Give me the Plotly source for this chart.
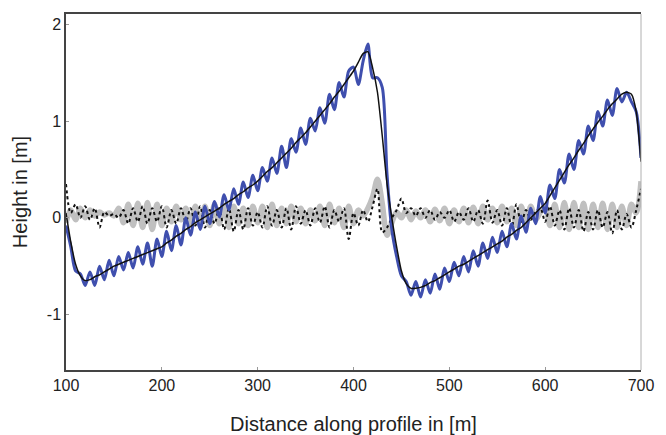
import plotly.graph_objects as go

# distance along profile [m]
distance = list(range(100, 701, 5))

# smooth trend (black solid)
trend = [0.05, -0.25, -0.48, -0.60, -0.65, -0.64, -0.61, -0.59, -0.56, -0.53,
         -0.50, -0.48, -0.46, -0.44, -0.42, -0.40, -0.38, -0.36, -0.34, -0.32,
         -0.30, -0.26, -0.23, -0.19, -0.16, -0.12, -0.09, -0.05, -0.02, 0.01,
         0.04, 0.07, 0.10, 0.14, 0.17, 0.20, 0.24, 0.27, 0.31, 0.34,
         0.38, 0.43, 0.48, 0.52, 0.57, 0.62, 0.67, 0.72, 0.78, 0.83,
         0.88, 0.94, 1.00, 1.06, 1.12, 1.18, 1.25, 1.31, 1.38, 1.45,
         1.52, 1.61, 1.70, 1.72, 1.55, 1.30, 0.85, 0.35, 0.00, -0.30,
         -0.55, -0.68, -0.73, -0.73, -0.72, -0.70, -0.67, -0.65, -0.62, -0.59,
         -0.56, -0.53, -0.50, -0.48, -0.45, -0.42, -0.39, -0.36, -0.33, -0.30,
         -0.27, -0.24, -0.20, -0.17, -0.13, -0.10, -0.05, 0.00, 0.05, 0.10,
         0.15, 0.23, 0.31, 0.39, 0.47, 0.55, 0.62, 0.70, 0.77, 0.85,
         0.92, 0.99, 1.05, 1.12, 1.18, 1.23, 1.28, 1.30, 1.28, 1.10,
         0.58]

# measured profile (blue)
measured = [-0.08, -0.30, -0.55, -0.58, -0.70, -0.56, -0.70, -0.50, -0.64, -0.44,
            -0.60, -0.40, -0.54, -0.36, -0.52, -0.30, -0.48, -0.26, -0.50, -0.22,
            -0.40, -0.14, -0.34, -0.08, -0.28, 0.00, -0.18, 0.06, -0.12, 0.12,
            -0.06, 0.17, 0.01, 0.24, 0.08, 0.30, 0.14, 0.37, 0.21, 0.44,
            0.28, 0.52, 0.38, 0.62, 0.46, 0.74, 0.52, 0.82, 0.68, 0.93,
            0.76, 1.03, 0.90, 1.14, 0.98, 1.28, 1.12, 1.40, 1.25, 1.52,
            1.56, 1.38, 1.62, 1.80, 1.45, 1.45, 1.35, 0.45, -0.12, -0.40,
            -0.60, -0.66, -0.80, -0.66, -0.82, -0.64, -0.78, -0.58, -0.74, -0.52,
            -0.66, -0.46, -0.60, -0.40, -0.56, -0.34, -0.50, -0.26, -0.42, -0.20,
            -0.36, -0.14, -0.30, -0.06, -0.22, 0.02, -0.15, 0.10, -0.06, 0.22,
            0.05, 0.34, 0.20, 0.50, 0.36, 0.66, 0.50, 0.80, 0.66, 0.95,
            0.80, 1.10, 0.95, 1.22, 1.06, 1.34, 1.20, 1.30, 1.20, 1.10,
            0.62]

# residual 1 (grey)
residual_grey = [-0.05, 0.08, -0.02, 0.10, 0.00, 0.08, 0.02, 0.06, 0.03, 0.05,
                 0.02, 0.10, -0.05, 0.14, -0.08, 0.15, -0.10, 0.16, -0.12, 0.14,
                 -0.08, 0.10, -0.04, 0.12, -0.02, 0.10, -0.06, 0.12, -0.08, 0.12,
                 -0.08, 0.14, -0.06, 0.13, -0.10, 0.12, -0.06, 0.10, -0.08, 0.12,
                 -0.05, 0.12, -0.10, 0.14, -0.08, 0.10, -0.06, 0.12, -0.04, 0.10,
                 -0.06, 0.08, -0.03, 0.12, -0.08, 0.14, -0.05, 0.10, -0.10, 0.12,
                 -0.06, 0.08, 0.02, 0.10, 0.22, 0.40, 0.15, -0.18, -0.05, 0.06,
                 0.00, 0.08, -0.02, 0.07, 0.00, 0.08, -0.04, 0.09, -0.03, 0.10,
                 -0.06, 0.08, -0.04, 0.10, -0.05, 0.11, -0.06, 0.12, -0.02, 0.10,
                 -0.05, 0.12, -0.04, 0.10, -0.08, 0.12, -0.06, 0.12, -0.02, 0.06,
                 0.12, -0.08, 0.14, -0.10, 0.16, -0.12, 0.16, -0.10, 0.15, -0.12,
                 0.14, -0.10, 0.15, -0.12, 0.14, -0.10, 0.12, -0.08, 0.14, 0.05,
                 0.38]

# residual 2 (black dotted)
residual_black = [0.35, 0.05, 0.14, 0.00, 0.12, -0.02, 0.10, -0.10, 0.06, 0.02,
                  0.04, 0.00, 0.08, -0.06, 0.10, -0.04, 0.12, -0.06, 0.10, -0.04,
                  0.12, -0.10, 0.08, -0.06, 0.10, -0.04, 0.10, -0.08, 0.12, -0.10,
                  0.08, -0.06, 0.10, -0.12, 0.10, -0.14, 0.08, -0.12, 0.10, -0.08,
                  0.06, -0.10, 0.12, -0.08, 0.08, -0.10, 0.10, -0.12, 0.12, -0.06,
                  0.08, -0.08, 0.10, -0.05, 0.12, -0.10, 0.08, -0.04, 0.10, -0.22,
                  0.05, -0.08, 0.08, -0.04, 0.12, 0.30, -0.15, -0.10, 0.00, 0.08,
                  0.20, 0.05, 0.10, 0.02, 0.10, 0.00, 0.08, -0.02, 0.06, 0.00,
                  0.08, -0.04, 0.06, -0.02, 0.10, -0.04, 0.08, -0.06, 0.18, -0.05,
                  0.08, -0.08, 0.10, -0.10, 0.14, -0.06, 0.08, -0.02, 0.06, 0.10,
                  -0.04, 0.12, -0.08, 0.08, -0.12, 0.10, -0.10, 0.08, -0.14, 0.06,
                  -0.12, 0.08, -0.10, 0.06, -0.16, 0.08, -0.12, 0.04, -0.10, 0.08,
                  0.30]

x_ticks = [100, 200, 300, 400, 500, 600, 700]
y_ticks = [-1, 0, 1, 2]
y_tick_labels = ["-1", "0", "1", "2"]

font_family = "Liberation Sans, Arial, sans-serif"

fig = go.Figure()
fig.add_trace(go.Scatter(x=distance, y=residual_grey, mode="lines",
                         line=dict(color="#c0c0c0", width=5.5, shape="spline", smoothing=0.9)))
fig.add_trace(go.Scatter(x=distance, y=residual_black, mode="lines",
                         line=dict(color="#111111", width=2, dash="dot", shape="spline", smoothing=0.9)))
fig.add_trace(go.Scatter(x=distance, y=measured, mode="lines",
                         line=dict(color="#3f4fae", width=3, shape="spline", smoothing=0.8)))
fig.add_trace(go.Scatter(x=distance, y=trend, mode="lines",
                         line=dict(color="#111111", width=1.5, shape="spline", smoothing=0.6)))

fig.update_layout(
    width=666, height=435,
    margin=dict(l=66, r=25, t=14, b=65),
    paper_bgcolor="white", plot_bgcolor="white",
    showlegend=False,
    font=dict(family=font_family, color="#222", size=16),
)
fig.update_xaxes(range=[100, 700], tickvals=x_ticks, ticktext=[str(v) for v in x_ticks],
                 ticks="inside", ticklen=3, tickcolor="#999", showgrid=False, zeroline=False,
                 showline=True, linecolor="#444", linewidth=1.5, mirror=True, automargin=False,
                 title=dict(text="Distance along profile in [m]", font=dict(size=20), standoff=28))
fig.update_yaxes(range=[-1.575, 2.11], tickvals=y_ticks, ticktext=y_tick_labels,
                 ticks="inside", ticklen=3, tickcolor="#999", showgrid=False, zeroline=False,
                 showline=True, linecolor="#444", linewidth=1.5, mirror=False, automargin=False,
                 title=dict(text="Height in [m]", font=dict(size=20), standoff=14))
fig.add_shape(type="line", xref="paper", yref="paper", x0=1, x1=1, y0=0, y1=1,
              line=dict(color="#b0b0b0", width=1))

fig.write_html("out.html")
